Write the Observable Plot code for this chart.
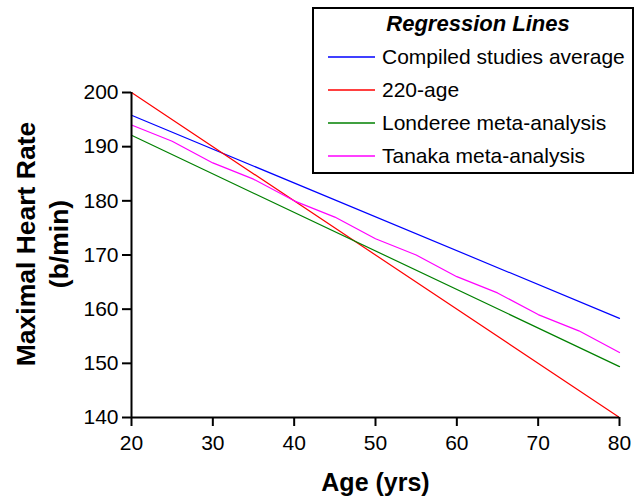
<!DOCTYPE html>
<html>
<head>
<meta charset="utf-8">
<script src="https://cdn.jsdelivr.net/npm/d3@7"></script>
<script src="https://cdn.jsdelivr.net/npm/@observablehq/plot@0.6"></script>
<style>
  html, body { margin: 0; padding: 0; background: #fff; }
  #chart { position: relative; width: 638px; height: 498px; }
</style>
</head>
<body>
<div id="chart"></div>
<script>
// ---- data ----
const seriesNames = ["Compiled studies average", "220-age", "Londeree meta-analysis", "Tanaka meta-analysis"];
const seriesColors = ["#0000ff", "#ff0000", "#008000", "#ff00ff"];

const compiledAges = [20, 80];
const compiledHR = [195.8, 158.3];

const formulaAges = [20, 80];
const formulaHR = [200, 140];

const londereeAges = [20, 80];
const londereeHR = [192.1, 149.4];

const tanakaAges = [20, 25, 30, 35, 40, 45, 50, 55, 60, 65, 70, 75, 80];
const tanakaHR = [194, 191, 187, 184, 180, 177, 173, 170, 166, 163, 159, 156, 152];

const xTicks = [20, 30, 40, 50, 60, 70, 80];
const yTicks = [140, 150, 160, 170, 180, 190, 200];

const legendTitle = "Regression Lines";
const xLabel = "Age (yrs)";
const yLabel = "Maximal Heart Rate\n(b/min)";

// ---- build table ----
const seriesData = [
  [compiledAges, compiledHR],
  [formulaAges, formulaHR],
  [londereeAges, londereeHR],
  [tanakaAges, tanakaHR]
];
const rows = [];
seriesData.forEach(([ages, hr], i) => {
  ages.forEach((a, j) => rows.push({series: seriesNames[i], age: a, hr: hr[j]}));
});

const font = "'Liberation Sans', Arial, sans-serif";

const chart = Plot.plot({
  width: 638,
  height: 498,
  marginLeft: 131,
  marginRight: 19,
  marginTop: 92,
  marginBottom: 81,
  style: {fontFamily: font, background: "white", color: "black"},
  x: {domain: [20, 80]},
  y: {domain: [140, 200]},
  color: {domain: seriesNames, range: seriesColors},
  marks: [
    Plot.line(rows, {x: "age", y: "hr", z: "series", stroke: "series", strokeWidth: 1.2}),
    Plot.axisX({ticks: xTicks, tickSize: 9, tickPadding: 9, fontSize: 21, label: null, strokeWidth: 2}),
    Plot.axisY({ticks: yTicks, tickSize: 9, tickPadding: 4, fontSize: 21, label: null, strokeWidth: 2}),
    Plot.ruleX([20], {strokeWidth: 2}),
    Plot.ruleY([140], {strokeWidth: 2}),
    Plot.text([xLabel], {frameAnchor: "bottom", dy: 65, textAnchor: "middle", lineAnchor: "middle", fontSize: 25, fontWeight: "bold", fill: "black"}),
    Plot.text([yLabel], {frameAnchor: "left", dx: -91, dy: -11, textAnchor: "middle", lineAnchor: "middle", rotate: -90, fontSize: 26.5, fontWeight: "bold", lineHeight: 1.25, fill: "black"})
  ]
});

document.getElementById("chart").appendChild(chart);

// ---- legend (drawn into the same SVG) ----
const svg = d3.select(chart);
const lg = svg.append("g").attr("font-family", font).attr("text-anchor", "start");
lg.append("rect")
  .attr("x", 313).attr("y", 8).attr("width", 320).attr("height", 165)
  .attr("fill", "white").attr("stroke", "black").attr("stroke-width", 2);
lg.append("text")
  .attr("x", 478).attr("y", 23).attr("dy", "0.35em")
  .attr("text-anchor", "middle")
  .attr("font-size", 22).attr("font-weight", "bold").attr("font-style", "italic")
  .text(legendTitle);
seriesNames.forEach((name, i) => {
  const y = 57 + i * 33;
  lg.append("line")
    .attr("x1", 328).attr("x2", 375).attr("y1", y).attr("y2", y)
    .attr("stroke", seriesColors[i]).attr("stroke-width", 1.5);
  lg.append("text")
    .attr("x", 382).attr("y", y).attr("dy", "0.35em")
    .attr("text-anchor", "start")
    .attr("font-size", 21)
    .text(name);
});
</script>
</body>
</html>
